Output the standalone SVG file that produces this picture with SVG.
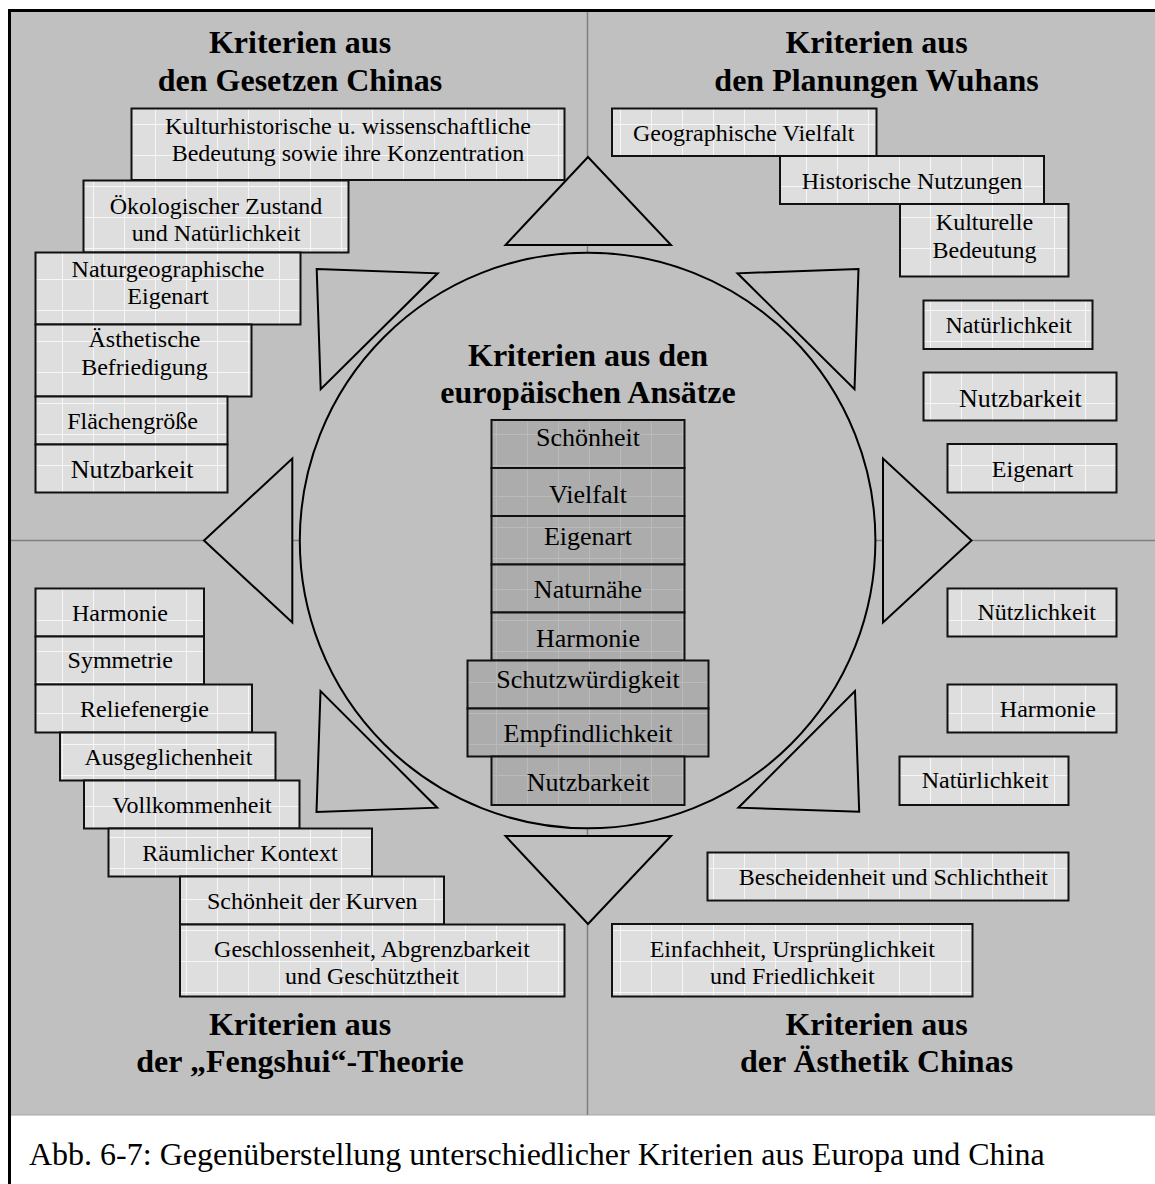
<svg xmlns="http://www.w3.org/2000/svg" width="1155" height="1184" viewBox="0 0 1155 1184">
<defs>
<pattern id="gl" patternUnits="userSpaceOnUse" width="31" height="31">
<rect width="31" height="31" fill="#dedede"/>
<path d="M0 0.5H31M0.5 0V31" stroke="#f6f6f6" stroke-width="1"/>
</pattern>
<pattern id="gd" patternUnits="userSpaceOnUse" width="31" height="31">
<rect width="31" height="31" fill="#acacac"/>
<path d="M0 0.5H31M0.5 0V31" stroke="#bababa" stroke-width="1"/>
</pattern>
<style>
.bx{fill:url(#gl);stroke:#111;stroke-width:2}
.bd{fill:url(#gd);stroke:#111;stroke-width:2}
.t{font-family:"Liberation Serif","Times New Roman",serif;font-size:24px;fill:#000;text-anchor:middle}
.t26{font-size:26px}
.h{font-family:"Liberation Serif","Times New Roman",serif;font-size:32px;font-weight:bold;fill:#000;text-anchor:middle}
.cap{font-family:"Liberation Serif","Times New Roman",serif;font-size:32px;fill:#000}
.tri{fill:#c0c0c0;stroke:#000;stroke-width:2;stroke-linejoin:miter}
.div{stroke:#808080;stroke-width:1.5;fill:none}
</style>
</defs>
<rect width="1155" height="1184" fill="#fff"/>
<rect x="11" y="12" width="1150" height="1103" fill="#c0c0c0"/>
<line x1="11" y1="1115" x2="1155" y2="1115" stroke="#a8a8a8" stroke-width="1"/>
<path d="M9.5 1184V10.5H1160" fill="none" stroke="#000" stroke-width="3"/>
<g id="dividers">
<line class="div" x1="587.5" y1="12" x2="587.5" y2="1115"/>
<line class="div" x1="11" y1="540.5" x2="1155" y2="540.5"/>
</g>
<g id="connectors">
<polygon class="tri" points="588,157 505.5,245 671,245"/>
<polygon class="tri" points="505.5,836 671,836 588,924"/>
<polygon class="tri" points="204,540.5 292.3,458.5 292.3,622.5"/>
<polygon class="tri" points="883,458.5 883,622.5 971.5,540.5"/>
<polygon class="tri" points="316.7,269 437.7,273.3 320.7,389.3"/>
<polygon class="tri" points="858.5,269 737.5,273.3 854.5,389.3"/>
<polygon class="tri" points="320.5,691 316.5,812 437.2,807.7"/>
<polygon class="tri" points="855,691 859.2,811.7 738.4,807.7"/>
</g>
<g id="center">
<circle cx="587.6" cy="540.5" r="287.8" fill="#c0c0c0" stroke="#000" stroke-width="2"/>
<text class="h" x="588" y="366">Kriterien aus den</text>
<text class="h" x="588" y="403">europäischen Ansätze</text>
<g id="c1"><rect class="bd" x="491.5" y="420" width="193" height="48"/><text class="t t26" x="588" y="446">Schönheit</text></g>
<g id="c2"><rect class="bd" x="491.5" y="468" width="193" height="48"/><text class="t t26" x="588" y="502.7">Vielfalt</text></g>
<g id="c3"><rect class="bd" x="491.5" y="516" width="193" height="48.5"/><text class="t t26" x="588" y="545">Eigenart</text></g>
<g id="c4"><rect class="bd" x="491.5" y="564.5" width="193" height="48"/><text class="t t26" x="588" y="598.3">Naturnähe</text></g>
<g id="c5"><rect class="bd" x="491.5" y="612.5" width="193" height="48"/><text class="t t26" x="588" y="646.7">Harmonie</text></g>
<g id="c6"><rect class="bd" x="467.5" y="660.5" width="241" height="48"/><text class="t t26" x="588" y="688.3">Schutzwürdigkeit</text></g>
<g id="c7"><rect class="bd" x="467.5" y="708.5" width="241" height="48"/><text class="t t26" x="588" y="742.3">Empfindlichkeit</text></g>
<g id="c8"><rect class="bd" x="491.5" y="756.5" width="193" height="48.5"/><text class="t t26" x="588" y="790.7">Nutzbarkeit</text></g>
</g>
<g id="titles">
<text class="h" x="300" y="53">Kriterien aus</text>
<text class="h" x="300" y="90.5">den Gesetzen Chinas</text>
<text class="h" x="876.5" y="53">Kriterien aus</text>
<text class="h" x="876.5" y="90.5">den Planungen Wuhans</text>
<text class="h" x="300" y="1035">Kriterien aus</text>
<text class="h" x="300" y="1072">der „Fengshui“-Theorie</text>
<text class="h" x="876.5" y="1035">Kriterien aus</text>
<text class="h" x="876.5" y="1072">der Ästhetik Chinas</text>
</g>
<g id="gesetze">
<g id="g1"><rect class="bx" x="131.5" y="108.5" width="433" height="71.5"/><text class="t" x="348" y="133.5">Kulturhistorische u. wissenschaftliche</text><text class="t" x="348" y="160.5">Bedeutung sowie ihre Konzentration</text></g>
<g id="g2"><rect class="bx" x="83.5" y="180.5" width="265" height="72"/><text class="t" x="216" y="213.5">Ökologischer Zustand</text><text class="t" x="216" y="240.5">und Natürlichkeit</text></g>
<g id="g3"><rect class="bx" x="35.5" y="252.5" width="265" height="72"/><text class="t" x="168" y="276.5">Naturgeographische</text><text class="t" x="168" y="304">Eigenart</text></g>
<g id="g4"><rect class="bx" x="35.5" y="324.5" width="216" height="72"/><text class="t" x="144.5" y="347">Ästhetische</text><text class="t" x="144.5" y="375">Befriedigung</text></g>
<g id="g5"><rect class="bx" x="35.5" y="396.5" width="192" height="48"/><text class="t" x="132.5" y="428.5">Flächengröße</text></g>
<g id="g6"><rect class="bx" x="35.5" y="444.5" width="192" height="48"/><text class="t t26" x="132" y="477.5">Nutzbarkeit</text></g>
</g>
<g id="wuhan">
<g id="w1"><rect class="bx" x="612" y="108.5" width="264.5" height="47.5"/><text class="t" x="743.7" y="140.7">Geographische Vielfalt</text></g>
<g id="w2"><rect class="bx" x="780" y="156" width="264" height="48"/><text class="t" x="912" y="189">Historische Nutzungen</text></g>
<g id="w3"><rect class="bx" x="900" y="204" width="168.5" height="72.5"/><text class="t" x="984.5" y="230">Kulturelle</text><text class="t" x="984.5" y="257.5">Bedeutung</text></g>
<g id="w4"><rect class="bx" x="923.5" y="300.5" width="169" height="48.5"/><text class="t" x="1008.7" y="333.3">Natürlichkeit</text></g>
<g id="w5"><rect class="bx" x="923.5" y="372.5" width="193" height="48"/><text class="t t26" x="1020.3" y="406.7">Nutzbarkeit</text></g>
<g id="w6"><rect class="bx" x="947.5" y="444" width="169" height="48.5"/><text class="t" x="1032.5" y="477.3">Eigenart</text></g>
</g>
<g id="aesthetik">
<g id="a1"><rect class="bx" x="947.5" y="588.5" width="169" height="48"/><text class="t" x="1036.7" y="620">Nützlichkeit</text></g>
<g id="a2"><rect class="bx" x="947.5" y="684.5" width="169" height="48"/><text class="t" x="1047.8" y="716.7">Harmonie</text></g>
<g id="a3"><rect class="bx" x="899.5" y="756.5" width="169" height="48.5"/><text class="t" x="985" y="788.3">Natürlichkeit</text></g>
<g id="a4"><rect class="bx" x="707.5" y="852.5" width="361" height="48"/><text class="t" x="893.4" y="885">Bescheidenheit und Schlichtheit</text></g>
<g id="a5"><rect class="bx" x="612" y="924" width="360.5" height="72.5"/><text class="t" x="792.3" y="956.7">Einfachheit, Ursprünglichkeit</text><text class="t" x="792.3" y="984">und Friedlichkeit</text></g>
</g>
<g id="fengshui">
<g id="f1"><rect class="bx" x="35.5" y="588.5" width="168.5" height="48"/><text class="t" x="120" y="621">Harmonie</text></g>
<g id="f2"><rect class="bx" x="35.5" y="636.5" width="168.5" height="48"/><text class="t" x="120.2" y="668.3">Symmetrie</text></g>
<g id="f3"><rect class="bx" x="35.5" y="684.5" width="216.5" height="48"/><text class="t" x="144.5" y="716.7">Reliefenergie</text></g>
<g id="f4"><rect class="bx" x="60" y="732.5" width="215.5" height="48"/><text class="t" x="168.4" y="765">Ausgeglichenheit</text></g>
<g id="f5"><rect class="bx" x="84" y="780.5" width="215.5" height="48"/><text class="t" x="192" y="813.3">Vollkommenheit</text></g>
<g id="f6"><rect class="bx" x="108.5" y="828.5" width="263.5" height="48"/><text class="t" x="240" y="861">Räumlicher Kontext</text></g>
<g id="f7"><rect class="bx" x="180" y="876.5" width="264" height="48"/><text class="t" x="312.3" y="909">Schönheit der Kurven</text></g>
<g id="f8"><rect class="bx" x="180" y="924.5" width="384.5" height="72"/><text class="t" x="372" y="956.7">Geschlossenheit, Abgrenzbarkeit</text><text class="t" x="372" y="984">und Geschütztheit</text></g>
</g>
<text class="cap" x="29" y="1165">Abb. 6-7: Gegenüberstellung unterschiedlicher Kriterien aus Europa und China</text>
</svg>
